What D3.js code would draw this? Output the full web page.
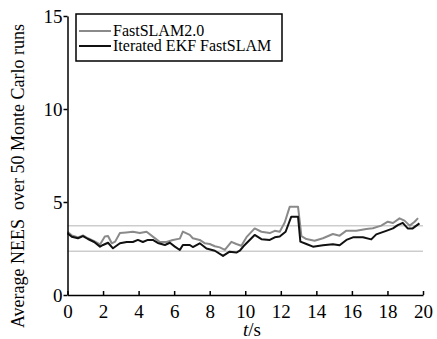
<!DOCTYPE html>
<html>
<head>
<meta charset="utf-8">
<script src="https://cdn.jsdelivr.net/npm/d3@7"></script>
<style>
  body { margin: 0; background: #fff; }
  .axis path, .axis line { stroke: #000; stroke-width: 1.5; }
</style>
</head>
<body>
<svg id="chart" width="437" height="339"></svg>
<script>
// FastSLAM2.0 (gray)
const tFast = [0, 0.25, 0.6, 0.87, 1.15, 1.5, 1.83, 2.1, 2.28, 2.49, 2.68, 2.95, 3.3, 3.68, 4.07, 4.45, 4.8, 5.2, 5.57, 5.93,
    6.32, 6.49, 6.88, 7.05, 7.44, 7.73, 8.0, 8.29, 8.57, 8.85, 9.22, 9.5, 9.78, 10.07, 10.53, 10.91, 11.38, 11.66, 11.94, 12.22,
    12.5, 12.97, 13.16, 13.44, 13.9, 14.37, 14.93, 15.31, 15.69, 16.25, 16.81, 17.18, 17.65, 18.02, 18.31, 18.68, 18.96, 19.25, 19.53, 19.72];
const neesFast = [3.4, 3.2, 3.1, 3.2, 3.05, 2.9, 2.72, 3.14, 3.17, 2.78, 2.87, 3.33, 3.36, 3.4, 3.33, 3.4, 3.14, 2.85, 2.85, 2.96,
    3.03, 3.41, 3.23, 3.05, 2.96, 2.78, 2.74, 2.62, 2.56, 2.43, 2.86, 2.74, 2.65, 3.11, 3.58, 3.4, 3.33, 3.45, 3.4, 3.9,
    4.74, 4.74, 3.16, 3.01, 2.92, 3.05, 3.28, 3.19, 3.46, 3.46, 3.55, 3.59, 3.73, 3.94, 3.87, 4.12, 4.0, 3.73, 3.94, 4.13];

// Iterated EKF FastSLAM (black)
const tIekf = [0, 0.24, 0.59, 0.87, 1.15, 1.5, 1.83, 2.0, 2.28, 2.56, 2.95, 3.33, 3.68, 3.96, 4.24, 4.52, 4.8, 5.08, 5.48, 5.76,
    6.04, 6.32, 6.49, 6.88, 7.05, 7.44, 7.82, 8.29, 8.75, 9.12, 9.5, 9.69, 9.97, 10.53, 10.91, 11.38, 11.66, 11.94, 12.27, 12.59,
    12.97, 13.1, 13.44, 13.81, 14.37, 14.93, 15.31, 15.69, 16.06, 16.62, 17.09, 17.37, 17.93, 18.31, 18.58, 18.86, 19.14, 19.42, 19.8];
const neesIekf = [3.32, 3.13, 3.05, 3.17, 3.01, 2.85, 2.6, 2.69, 2.81, 2.51, 2.78, 2.85, 2.85, 2.96, 2.85, 2.96, 2.96, 2.8, 2.69, 2.81,
    2.6, 2.42, 2.69, 2.69, 2.58, 2.78, 2.5, 2.38, 2.1, 2.33, 2.28, 2.38, 2.69, 3.23, 3.0, 2.96, 3.1, 3.14, 3.4, 4.21,
    4.21, 2.87, 2.74, 2.6, 2.67, 2.73, 2.67, 2.96, 3.1, 3.1, 2.99, 3.26, 3.45, 3.58, 3.76, 3.88, 3.58, 3.58, 3.85];

// confidence bounds (horizontal gray lines)
const bounds = [2.35, 3.72];

const xTicks = [0, 2, 4, 6, 8, 10, 12, 14, 16, 18, 20];
const yTicks = [0, 5, 10, 15];
const legendLabels = ["FastSLAM2.0", "Iterated EKF FastSLAM"];

const SERIF = "'Liberation Serif', 'Times New Roman', Times, 'DejaVu Serif', serif";

const svg = d3.select("#chart").attr("font-family", SERIF);
const x = d3.scaleLinear().domain([0, 20]).range([67.5, 423]);
const y = d3.scaleLinear().domain([0, 15]).range([295, 16]);

// bound lines
svg.selectAll(".bound").data(bounds).enter().append("line")
    .attr("x1", x(0)).attr("x2", x(20))
    .attr("y1", d => y(d)).attr("y2", d => y(d))
    .attr("stroke", "#cdcdcd").attr("stroke-width", 1.5);

const series = [
    { name: legendLabels[0], t: tFast, v: neesFast, color: "#8a8a8a" },
    { name: legendLabels[1], t: tIekf, v: neesIekf, color: "#111" }
];

const line = d3.line().x(d => x(d[0])).y(d => y(d[1]));
series.forEach(s => {
    svg.append("path")
        .datum(s.t.map((t, i) => [t, s.v[i]]))
        .attr("fill", "none").attr("stroke", s.color).attr("stroke-width", 2)
        .attr("stroke-linejoin", "round")
        .attr("d", line);
});

// axes
const gx = svg.append("g").attr("class", "axis")
    .attr("transform", `translate(0,${y(0)})`)
    .call(d3.axisBottom(x).tickValues(xTicks).tickSizeInner(-4).tickSizeOuter(0).tickPadding(10));
gx.selectAll("text").attr("dy", "0.71em");

const gy = svg.append("g").attr("class", "axis")
    .attr("transform", `translate(${x(0)},0)`)
    .call(d3.axisLeft(y).tickValues(yTicks).tickSizeInner(4).tickSizeOuter(0).tickPadding(1));

svg.selectAll(".axis").attr("font-family", SERIF).attr("font-size", 19);
svg.selectAll(".axis text").attr("font-family", SERIF).attr("fill", "#000");

// axis titles
svg.append("text")
    .attr("transform", `translate(24,176) rotate(-90)`)
    .attr("text-anchor", "middle")
    .attr("font-family", SERIF)
    .attr("font-size", 18)
    .text("Average NEES\u00a0\u00a0over 50 Monte Carlo runs");

const xt = svg.append("text")
    .attr("x", 252).attr("y", 336)
    .attr("text-anchor", "middle")
    .attr("font-family", SERIF)
    .attr("font-size", 19);
xt.append("tspan").attr("font-style", "italic").text("t");
xt.append("tspan").text("/s");

// legend
const lg = svg.append("g");
lg.append("rect")
    .attr("x", 76).attr("y", 14).attr("width", 206).attr("height", 47)
    .attr("fill", "#fff").attr("stroke", "#000").attr("stroke-width", 1.5);
const items = lg.selectAll(".item").data(series).enter().append("g")
    .attr("transform", (d, i) => `translate(0,${31 + i * 15})`);
items.append("line").attr("x1", 79).attr("x2", 111)
    .attr("stroke", d => d.color).attr("stroke-width", 2);
items.append("text").attr("x", 113).attr("dy", "0.33em")
    .attr("font-family", SERIF)
    .attr("font-size", 16).text(d => d.name);
</script>
</body>
</html>
